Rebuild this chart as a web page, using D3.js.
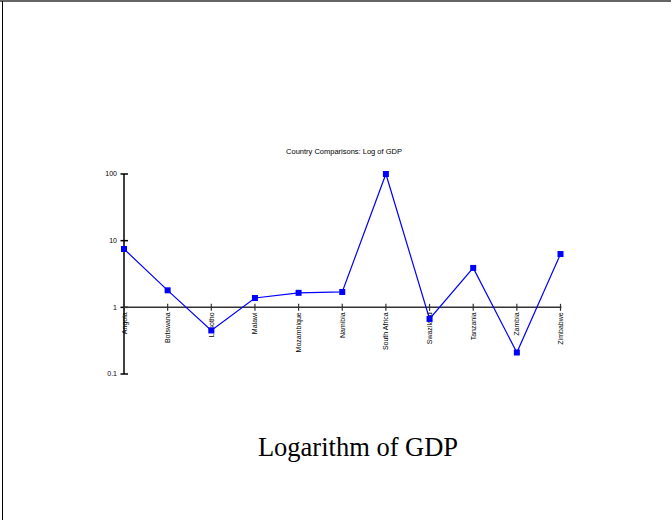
<!DOCTYPE html>
<html><head><meta charset="utf-8">
<script src="https://cdn.jsdelivr.net/npm/d3@7"></script>
<style>body{margin:0;background:#fff}svg{display:block}</style>
</head><body>
<script>
const countries = ["Angola","Botswana","Lesotho","Malawi","Mozambique","Namibia","South Africa","Swaziland","Tanzania","Zambia","Zimbabwe"];
const gdp = [7.5, 1.8, 0.45, 1.38, 1.65, 1.7, 100, 0.67, 3.9, 0.21, 6.3];
const yTicks = [0.1, 1, 10, 100];
const yTickLabels = ["0.1","1","10","100"];
const title = "Country Comparisons: Log of GDP";
const caption = "Logarithm of GDP";

const W = 671, H = 520;
const svg = d3.select("body").append("svg").attr("width", W).attr("height", H);
// frame
svg.append("line").attr("x1",0).attr("x2",W).attr("y1",1).attr("y2",1).attr("stroke","#666").attr("stroke-width",2);
svg.append("line").attr("x1",2.5).attr("x2",2.5).attr("y1",1).attr("y2",H).attr("stroke","#000").attr("stroke-width",1);

const x = d3.scalePoint().domain(countries).range([124, 560.5]);
const y = d3.scaleLog().domain([0.1, 100]).range([374, 174]);

// y axis
const ya = svg.append("g");
ya.append("line").attr("x1",124).attr("x2",124).attr("y1",y(100)).attr("y2",y(0.1)).attr("stroke","#000").attr("stroke-width",1.5);
yTicks.forEach((t,i)=>{
  ya.append("line").attr("x1",120.5).attr("x2",128).attr("y1",y(t)).attr("y2",y(t)).attr("stroke","#000").attr("stroke-width",1.5);
  ya.append("text").attr("x",117).attr("y",y(t)).attr("dy","0.35em").attr("text-anchor","end")
    .attr("font-family","Liberation Sans, Arial, sans-serif").attr("font-size",7).attr("fill","#000").text(yTickLabels[i]);
});
// x axis at 1
const xa = svg.append("g");
xa.append("line").attr("x1",x(countries[0])).attr("x2",x(countries[countries.length-1])+1).attr("y1",y(1)).attr("y2",y(1)).attr("stroke","#333").attr("stroke-width",1.5);
countries.forEach(c=>{
  xa.append("line").attr("x1",x(c)).attr("x2",x(c)).attr("y1",y(1)-3.5).attr("y2",y(1)+3.5).attr("stroke","#333").attr("stroke-width",1.2);
  xa.append("text").attr("transform",`translate(${x(c)+2.5},${y(1)+5}) rotate(-90)`).attr("text-anchor","end")
    .attr("font-family","Liberation Sans, Arial, sans-serif").attr("font-size",7).attr("fill","#000").text(c);
});

// line
const line = d3.line().x((d,i)=>x(countries[i])).y(d=>y(d));
svg.append("path").datum(gdp).attr("d",line).attr("fill","none").attr("stroke","#0000ff").attr("stroke-width",1.2);
svg.selectAll("rect.m").data(gdp).enter().append("rect").attr("class","m")
  .attr("x",(d,i)=>x(countries[i])-3).attr("y",d=>y(d)-3).attr("width",6).attr("height",6).attr("fill","#0000ff");

svg.append("text").attr("x",344).attr("y",154).attr("text-anchor","middle")
  .attr("font-family","Liberation Sans, Arial, sans-serif").attr("font-size",7.5).attr("fill","#000").text(title);
svg.append("text").attr("x",358).attr("y",456).attr("text-anchor","middle")
  .attr("font-family","Liberation Serif, Times New Roman, serif").attr("font-size",26.5).attr("fill","#000").text(caption);
</script>
</body></html>
